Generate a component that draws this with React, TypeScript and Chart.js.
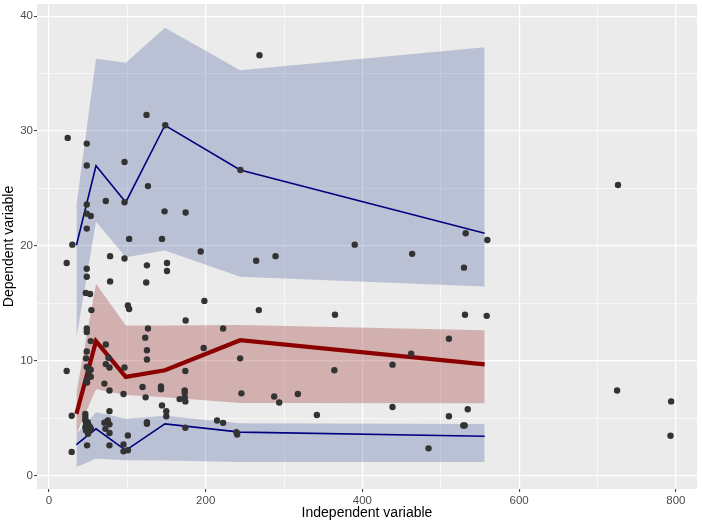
import React, { useEffect, useRef } from "react";
import { Chart, registerables } from "chart.js";

Chart.register(...registerables);

// Group positions (x) of the summary lines / ribbons
const groupX = [35, 60, 98, 148, 244, 556];

// Upper (blue) quantile line and ribbon
const upperLine = [20.05, 26.97, 23.8, 30.5, 26.6, 21.1];
const upperLow = [12.0, 22.1, 19.0, 19.6, 17.3, 16.45];
const upperHigh = [23.5, 36.3, 35.95, 39.0, 35.3, 37.3];

// Middle (red) line and ribbon
const midLine = [5.36, 11.7, 8.58, 9.16, 11.78, 9.68];
const midLow = [3.6, 7.5, 7.0, 6.8, 6.3, 6.28];
const midHigh = [7.2, 16.7, 13.05, 13.05, 13.1, 12.65];

// Lower (blue) quantile line and ribbon
const lowerLine = [2.68, 4.06, 2.19, 4.49, 3.77, 3.42];
const lowerLow = [0.74, 1.45, 1.32, 1.3, 1.18, 1.18];
const lowerHigh = [3.6, 5.5, 4.93, 5.2, 4.55, 4.49];

// Observations
const pointX = [
  23.9, 48.2, 48.2, 96.4, 124.5, 148.4, 126.3, 72.5, 96.4, 48.2,
  48.2, 53.3, 147.5, 174.4, 48.2, 29.8, 102.3, 144.2, 268.6, 244.3,
  193.6, 22.6, 48.2, 48.2, 78.0, 96.4, 78.0, 125.0, 150.6, 150.6,
  124.1, 46.9, 52.4, 100.7, 102.3, 54.1, 198.3, 174.4, 264.4, 289.1,
  390.2, 463.5, 531.8, 529.6, 559.4, 267.8, 365.0, 530.9, 558.6, 726.2,
  725.0, 794.0, 793.2, 48.2, 48.2, 126.3, 222.2, 122.8, 53.3, 48.2,
  72.5, 125.0, 197.4, 47.3, 75.9, 125.0, 243.9, 22.6, 48.2, 50.8,
  53.3, 72.5, 77.2, 96.4, 48.2, 53.3, 48.6, 174.0, 70.7, 77.2,
  95.1, 119.4, 142.9, 142.9, 123.3, 173.2, 173.2, 173.2, 166.7, 174.0,
  144.2, 149.7, 149.7, 245.6, 287.4, 293.8, 317.6, 341.9, 510.4, 462.2,
  438.4, 364.2, 438.4, 510.4, 534.4, 528.7, 530.5, 239.2, 240.1, 484.4,
  29.0, 29.0, 46.4, 46.4, 46.4, 47.3, 49.5, 50.8, 46.4, 52.4,
  47.3, 53.7, 48.6, 49.9, 77.2, 75.1, 70.7, 77.2, 72.0, 77.2,
  77.2, 100.7, 95.1, 95.1, 100.7, 125.0, 125.0, 174.0, 214.5, 222.2,
];
const pointY = [
  29.4, 28.9, 27.0, 27.3, 31.4, 30.5, 25.2, 23.9, 23.8, 23.6,
  22.8, 22.6, 23.0, 22.9, 21.5, 20.1, 20.6, 20.6, 36.6, 26.6,
  19.5, 18.5, 18.0, 17.3, 19.1, 18.9, 16.9, 18.3, 18.5, 17.8,
  16.8, 15.9, 15.8, 14.8, 14.5, 14.4, 15.2, 13.5, 18.7, 19.1,
  20.1, 19.3, 21.1, 18.1, 20.5, 14.4, 14.0, 14.0, 13.9, 25.3,
  7.4, 6.45, 3.46, 12.8, 12.5, 12.8, 12.8, 12.0, 11.7, 10.8,
  11.4, 10.9, 11.1, 10.2, 10.25, 10.1, 10.2, 9.1, 9.45, 9.0,
  9.2, 9.7, 9.4, 9.4, 8.3, 8.6, 8.1, 9.1, 8.0, 7.4,
  7.1, 7.7, 7.75, 7.5, 6.8, 7.4, 7.2, 6.8, 6.65, 6.45,
  6.1, 5.6, 5.15, 7.15, 6.88, 6.36, 7.09, 5.27, 11.9, 10.6,
  9.65, 9.16, 5.96, 5.15, 5.76, 4.35, 4.35, 3.77, 3.57, 2.36,
  5.2, 2.05, 5.36, 5.07, 4.78, 4.49, 4.63, 4.35, 4.2, 4.2,
  3.92, 4.06, 2.62, 3.63, 5.6, 4.78, 4.6, 4.45, 4.06, 3.7,
  2.62, 3.48, 2.7, 2.1, 2.2, 4.63, 4.5, 4.15, 4.78, 4.58,
];

// Axis breaks
const xMajorTicks = [0, 200, 400, 600, 800];
const xMinorTicks = [100, 300, 500, 700];
const yMajorTicks = [0, 10, 20, 30, 40];
const yMinorTicks = [5, 15, 25, 35];

const xTitle = "Independent variable";
const yTitle = "Dependent variable";

const BLUE_FILL = "rgba(20,45,130,0.22)";
const RED_FILL = "rgba(139,0,0,0.25)";
const NAVY = "#000080";
const DARKRED = "#8B0000";

const toXY = (xs: number[], ys: number[]) => xs.map((x, i) => ({ x, y: ys[i] }));

const panelBg = {
  id: "panelBg",
  beforeDraw(chart: any) {
    const { ctx, chartArea } = chart;
    ctx.save();
    ctx.fillStyle = "#ffffff";
    ctx.fillRect(0, 0, chart.width, chart.height);
    ctx.fillStyle = "#EBEBEB";
    ctx.fillRect(chartArea.left, chartArea.top, chartArea.right - chartArea.left, chartArea.bottom - chartArea.top);
    ctx.restore();
  },
};

export default function App() {
  const ref = useRef<HTMLCanvasElement>(null);

  useEffect(() => {
    if (!ref.current) return;

    const edge = (data: any, extra: any = {}) => ({
      type: "line",
      data,
      showLine: true,
      borderWidth: 0,
      borderColor: "rgba(0,0,0,0)",
      pointRadius: 0,
      tension: 0,
      order: 3,
      ...extra,
    });

    const xMaj = new Set(xMajorTicks);
    const yMaj = new Set(yMajorTicks);

    const chart = new Chart(ref.current, {
      type: "scatter",
      data: {
        datasets: [
          {
            type: "scatter",
            data: toXY(pointX, pointY),
            pointRadius: 3.2,
            pointBackgroundColor: "#333333",
            pointBorderWidth: 0,
            borderWidth: 0,
            order: 0,
          } as any,
          {
            type: "line",
            data: toXY(groupX, upperLine),
            borderColor: NAVY,
            borderWidth: 1.6,
            pointRadius: 0,
            fill: false,
            tension: 0,
            order: 1,
          } as any,
          {
            type: "line",
            data: toXY(groupX, midLine),
            borderColor: DARKRED,
            borderWidth: 4.2,
            pointRadius: 0,
            fill: false,
            tension: 0,
            order: 1,
          } as any,
          {
            type: "line",
            data: toXY(groupX, lowerLine),
            borderColor: NAVY,
            borderWidth: 1.6,
            pointRadius: 0,
            fill: false,
            tension: 0,
            order: 1,
          } as any,
          edge(toXY(groupX, upperLow), { fill: false }),
          edge(toXY(groupX, upperHigh), { fill: "-1", backgroundColor: BLUE_FILL }),
          edge(toXY(groupX, midLow), { fill: false }),
          edge(toXY(groupX, midHigh), { fill: "-1", backgroundColor: RED_FILL }),
          edge(toXY(groupX, lowerLow), { fill: false }),
          edge(toXY(groupX, lowerHigh), { fill: "-1", backgroundColor: BLUE_FILL }),
        ] as any,
      },
      options: {
        animation: false,
        responsive: false,
        events: [],
        layout: { padding: { left: 0, right: 5, top: 0, bottom: 0 } },
        plugins: {
          legend: { display: false },
          tooltip: { enabled: false },
        },
        scales: {
          x: {
            type: "linear",
            min: -15.3,
            max: 827,
            afterBuildTicks: (scale: any) => {
              scale.ticks = [...xMajorTicks, ...xMinorTicks]
                .sort((a, b) => a - b)
                .map((v) => ({ value: v }));
            },
            afterFit: (scale: any) => {
              scale.height = 35;
              scale.paddingLeft = 0;
              scale.paddingRight = 0;
            },
            border: { display: false },
            grid: {
              color: "#ffffff",
              lineWidth: (ctx: any) => (ctx.tick && xMaj.has(ctx.tick.value) ? 1.2 : 0.6),
              tickColor: (ctx: any) => (ctx.tick && xMaj.has(ctx.tick.value) ? "#333333" : "rgba(0,0,0,0)"),
              tickWidth: 1,
              tickLength: 3,
              drawTicks: true,
            },
            ticks: {
              autoSkip: false,
              maxRotation: 0,
              padding: 2,
              color: "#4D4D4D",
              font: { family: "'Liberation Sans', Arial, sans-serif", size: 11.5 },
              callback: (v: any) => (xMaj.has(Number(v)) ? String(v) : ""),
            },
            title: {
              display: true,
              text: xTitle,
              color: "#000000",
              padding: { top: 0, bottom: 2 },
              font: { family: "'Liberation Sans', Arial, sans-serif", size: 14 },
            },
          },
          y: {
            type: "linear",
            min: -1.18,
            max: 41.06,
            afterBuildTicks: (scale: any) => {
              scale.ticks = [...yMajorTicks, ...yMinorTicks]
                .sort((a, b) => a - b)
                .map((v) => ({ value: v }));
            },
            afterFit: (scale: any) => {
              scale.width = 37;
              scale.paddingTop = 0;
              scale.paddingBottom = 0;
            },
            border: { display: false },
            grid: {
              color: "#ffffff",
              lineWidth: (ctx: any) => (ctx.tick && yMaj.has(ctx.tick.value) ? 1.2 : 0.6),
              tickColor: (ctx: any) => (ctx.tick && yMaj.has(ctx.tick.value) ? "#333333" : "rgba(0,0,0,0)"),
              tickWidth: 1,
              tickLength: 3,
              drawTicks: true,
            },
            ticks: {
              autoSkip: false,
              padding: 1,
              color: "#4D4D4D",
              font: { family: "'Liberation Sans', Arial, sans-serif", size: 11.5 },
              callback: (v: any) => (yMaj.has(Number(v)) ? String(v) : ""),
            },
            title: {
              display: true,
              text: yTitle,
              color: "#000000",
              padding: { top: 1, bottom: 0 },
              font: { family: "'Liberation Sans', Arial, sans-serif", size: 14 },
            },
          },
        },
      } as any,
      plugins: [panelBg],
    });

    return () => chart.destroy();
  }, []);

  return (
    <div style={{ position: "fixed", left: 0, top: 0, width: 702, height: 524, background: "#fff" }}>
      <canvas ref={ref} width={702} height={524} style={{ display: "block", width: 702, height: 524 }} />
    </div>
  );
}
